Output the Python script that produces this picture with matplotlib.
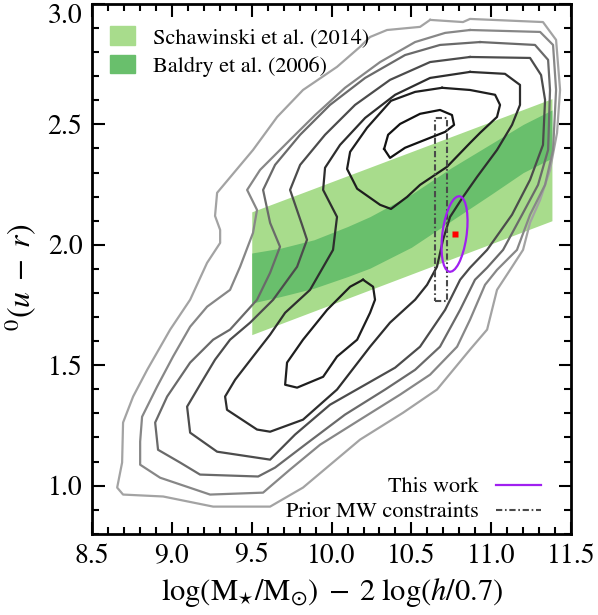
import matplotlib.pyplot as plt
from matplotlib.patches import Patch, Ellipse
from matplotlib.lines import Line2D
from matplotlib.ticker import MultipleLocator

plt.rcParams['font.family'] = ['STIXGeneral', 'DejaVu Serif']
plt.rcParams['mathtext.fontset'] = 'stix'

# green valley definitions
schaw_x = [9.5, 11.38]
schaw_lo = [1.627, 2.10]
schaw_hi = [2.137, 2.607]

baldry_x = [9.5, 9.68, 9.89, 10.10, 10.24, 10.5, 10.75, 11.0, 11.2, 11.38]
baldry_lo = [1.758, 1.785, 1.82, 1.868, 1.903, 1.99, 2.10, 2.21, 2.30, 2.36]
baldry_hi = [1.966, 1.986, 2.021, 2.076, 2.117, 2.21, 2.32, 2.42, 2.50, 2.56]

# MW prior box and this work
mw_mass = [10.65, 10.72]
mw_color = [1.765, 2.526]
this_mass, this_color = 10.77, 2.045
ell_w, ell_h, ell_ang = 0.15, 0.32, -13

# density contours of the galaxy population (outer -> inner)
lev1 = [(10.617,2.934),(10.823,2.925),(10.867,2.938),(11.324,2.925),(11.406,2.851),(11.431,2.643),
        (11.412,2.465),(11.368,2.311),(11.306,2.187),(11.243,2.092),(11.199,1.979),(11.118,1.896),
        (11.036,1.813),(10.974,1.648),(10.867,1.565),(10.660,1.399),(10.448,1.303),(10.178,1.191),
        (9.821,0.992),(9.615,0.913),(9.258,0.913),(8.945,0.955),(8.694,0.963),(8.657,0.992),
        (8.688,1.096),(8.694,1.262),(8.757,1.370),(8.845,1.481),(8.989,1.648),(9.114,1.772),
        (9.220,1.925),(9.302,2.008),(9.302,2.062),(9.270,2.120),(9.283,2.216),(9.508,2.394),
        (9.659,2.531),(9.821,2.643),(10.034,2.739),(10.178,2.822),(10.241,2.863),(10.347,2.892),
        (10.554,2.905)]
lev2 = [(10.867,2.892),(11.306,2.884),(11.387,2.830),(11.406,2.643),(11.387,2.394),(11.337,2.249),
        (11.243,2.125),(11.161,1.979),(11.036,1.896),(10.961,1.834),(10.867,1.689),(10.786,1.577),
        (10.617,1.461),(10.429,1.378),(10.178,1.274),(9.928,1.170),(9.740,1.067),(9.571,0.971),
        (9.239,0.963),(8.926,1.033),(8.801,1.087),(8.801,1.183),(8.813,1.286),(8.907,1.411),
        (9.007,1.536),(9.114,1.660),(9.220,1.743),(9.364,1.813),(9.427,1.909),(9.508,2.050),
        (9.533,2.145),(9.471,2.228),(9.552,2.311),(9.740,2.436),(9.897,2.539),(10.084,2.652),
        (10.304,2.759),(10.523,2.842),(10.711,2.880)]
lev3 = [(10.930,2.842),(11.274,2.830),(11.356,2.768),(11.368,2.643),(11.356,2.394),(11.293,2.249),
        (11.193,2.125),(11.074,1.979),(10.974,1.905),(10.898,1.855),(10.805,1.730),(10.679,1.577),
        (10.523,1.481),(10.335,1.399),(10.084,1.295),(9.834,1.170),(9.646,1.075),(9.540,1.038),
        (9.176,1.046),(9.051,1.096),(8.913,1.149),(8.895,1.262),(8.970,1.370),(9.114,1.511),
        (9.258,1.606),(9.364,1.648),(9.533,1.772),(9.615,1.884),(9.677,1.992),(9.615,2.091),
        (9.571,2.228),(9.646,2.332),(9.803,2.457),(9.990,2.581),(10.210,2.693),(10.460,2.788),
        (10.679,2.830)]
lev4 = [(10.867,2.780),(11.243,2.776),(11.312,2.705),(11.337,2.602),(11.324,2.415),(11.243,2.270),
        (11.130,2.125),(10.974,1.979),(10.867,1.905),(10.805,1.855),(10.711,1.730),(10.554,1.577),
        (10.398,1.490),(10.210,1.419),(9.990,1.336),(9.771,1.212),(9.615,1.108),(9.283,1.141),
        (9.114,1.220),(9.095,1.328),(9.176,1.419),(9.270,1.523),(9.364,1.606),(9.490,1.677),
        (9.634,1.772),(9.784,1.909),(9.846,2.021),(9.815,2.083),(9.740,2.228),(9.803,2.332),
        (9.959,2.457),(10.147,2.581),(10.366,2.685),(10.617,2.759)]
lev5 = [(10.867,2.718),(11.086,2.710),(11.180,2.664),(11.180,2.581),(11.130,2.498),(11.036,2.394),
        (10.911,2.282),(10.823,2.199),(10.742,2.116),(10.698,2.021),(10.660,1.909),(10.598,1.834),
        (10.523,1.772),(10.366,1.677),(10.241,1.577),(10.034,1.399),(9.821,1.274),(9.615,1.224),
        (9.533,1.233),(9.345,1.315),(9.333,1.370),(9.396,1.440),(9.508,1.536),(9.615,1.627),
        (9.709,1.718),(9.865,1.813),(10.009,1.979),(10.034,2.116),(9.947,2.228),(9.959,2.320),
        (10.053,2.415),(10.210,2.527),(10.398,2.623),(10.617,2.693)]
red_loop = [(10.692,2.652),(10.867,2.643),(11.024,2.623),(11.055,2.581),(11.036,2.531),(10.930,2.465),
            (10.867,2.423),(10.723,2.324),(10.554,2.249),(10.473,2.199),(10.372,2.149),(10.304,2.166),
            (10.160,2.233),(10.097,2.315),(10.116,2.386),(10.222,2.486),(10.372,2.598),(10.523,2.635)]
red_core = [(10.329,2.398),(10.354,2.457),(10.429,2.502),(10.554,2.544),(10.679,2.560),(10.754,2.539),
            (10.767,2.498),(10.711,2.469),(10.585,2.436),(10.460,2.403),(10.366,2.361)]
blue_core = [(10.197,1.855),(10.260,1.826),(10.272,1.772),(10.241,1.718),(10.160,1.606),(10.034,1.536),
             (9.947,1.452),(9.784,1.407),(9.709,1.419),(9.721,1.511),(9.821,1.606),(9.972,1.730),
             (10.116,1.826)]

contours = [lev1, lev2, lev3, lev4, lev5, red_loop, blue_core, red_core]
contour_colors = ['#a3a3a3', '#878787', '#6a6a6a', '#4c4c4c', '#2e2e2e', '#1e1e1e', '#1e1e1e', '#121212']

fig = plt.figure(figsize=(5.98, 6.15), dpi=100)
ax = fig.add_axes([0.154, 0.132, 0.801, 0.8615])

ax.fill_between(schaw_x, schaw_lo, schaw_hi, color='#a8dc8c', lw=0, zorder=1)
ax.fill_between(baldry_x, baldry_lo, baldry_hi, color='#69bf6c', lw=0, zorder=2)

for pts, col in zip(contours, contour_colors):
    xs = [p[0] for p in pts] + [pts[0][0]]
    ys = [p[1] for p in pts] + [pts[0][1]]
    ax.plot(xs, ys, color=col, lw=1.6, zorder=3)

mw_ls = (0, (3, 1.3, 0.8, 1.3))
mwx = [mw_mass[0], mw_mass[1], mw_mass[1], mw_mass[0], mw_mass[0]]
mwy = [mw_color[0], mw_color[0], mw_color[1], mw_color[1], mw_color[0]]
ax.plot(mwx, mwy, color='#4a4a4a', lw=1.5, ls=mw_ls, zorder=4)

ax.add_patch(Ellipse((this_mass, this_color), ell_w, ell_h, angle=ell_ang,
                     fill=False, ec='#a020f0', lw=1.6, zorder=5))
ax.plot([this_mass], [this_color], 's', color='red', ms=4.5, mec='none', zorder=6)

ax.set_xlim(8.5, 11.5)
ax.set_ylim(0.8, 3.0)
ax.xaxis.set_major_locator(MultipleLocator(0.5))
ax.xaxis.set_minor_locator(MultipleLocator(0.1))
ax.yaxis.set_major_locator(MultipleLocator(0.5))
ax.yaxis.set_minor_locator(MultipleLocator(0.1))
ax.xaxis.set_major_formatter(plt.FormatStrFormatter('%.1f'))
ax.yaxis.set_major_formatter(plt.FormatStrFormatter('%.1f'))
ax.tick_params(which='both', direction='in', top=True, right=True, width=1.5, labelsize=20)
ax.tick_params(which='major', length=9, pad=7)
ax.tick_params(which='minor', length=5)
for s in ax.spines.values():
    s.set_linewidth(2)

ax.set_xlabel(r'$\log(\mathrm{M}_{\star}/\mathrm{M}_{\odot})\;-\;2\;\log(h/0.7)$', fontsize=22, labelpad=5)
ax.set_ylabel(r'$^{0}(u\;-\;r)$', fontsize=23)
ax.yaxis.set_label_coords(-0.11, 0.485)

h1 = [Patch(color='#a8dc8c'), Patch(color='#69bf6c')]
leg1 = ax.legend(h1, ['Schawinski et al. (2014)', 'Baldry et al. (2006)'], loc='upper left',
                 bbox_to_anchor=(0.019, 0.975), borderaxespad=0, frameon=False, fontsize=16,
                 handlelength=1.1, handleheight=0.9, handletextpad=0.85, labelspacing=0.3)
ax.add_artist(leg1)
h2 = [Line2D([], [], color='#a020f0', lw=1.6),
      Line2D([], [], color='#4a4a4a', lw=1.5, ls=mw_ls)]
ax.legend(h2, ['This work', 'Prior MW constraints'], loc='lower right', bbox_to_anchor=(0.955, 0.005),
          borderaxespad=0, frameon=False, fontsize=16, markerfirst=False, handlelength=2.0,
          handletextpad=0.8, labelspacing=0.2)

fig.canvas.draw()
for t in ax.yaxis.get_major_ticks():
    if abs(t.get_loc() - 3.0) < 1e-6:
        t.label1.set_verticalalignment('top')

fig.savefig('out.png', dpi=100)
